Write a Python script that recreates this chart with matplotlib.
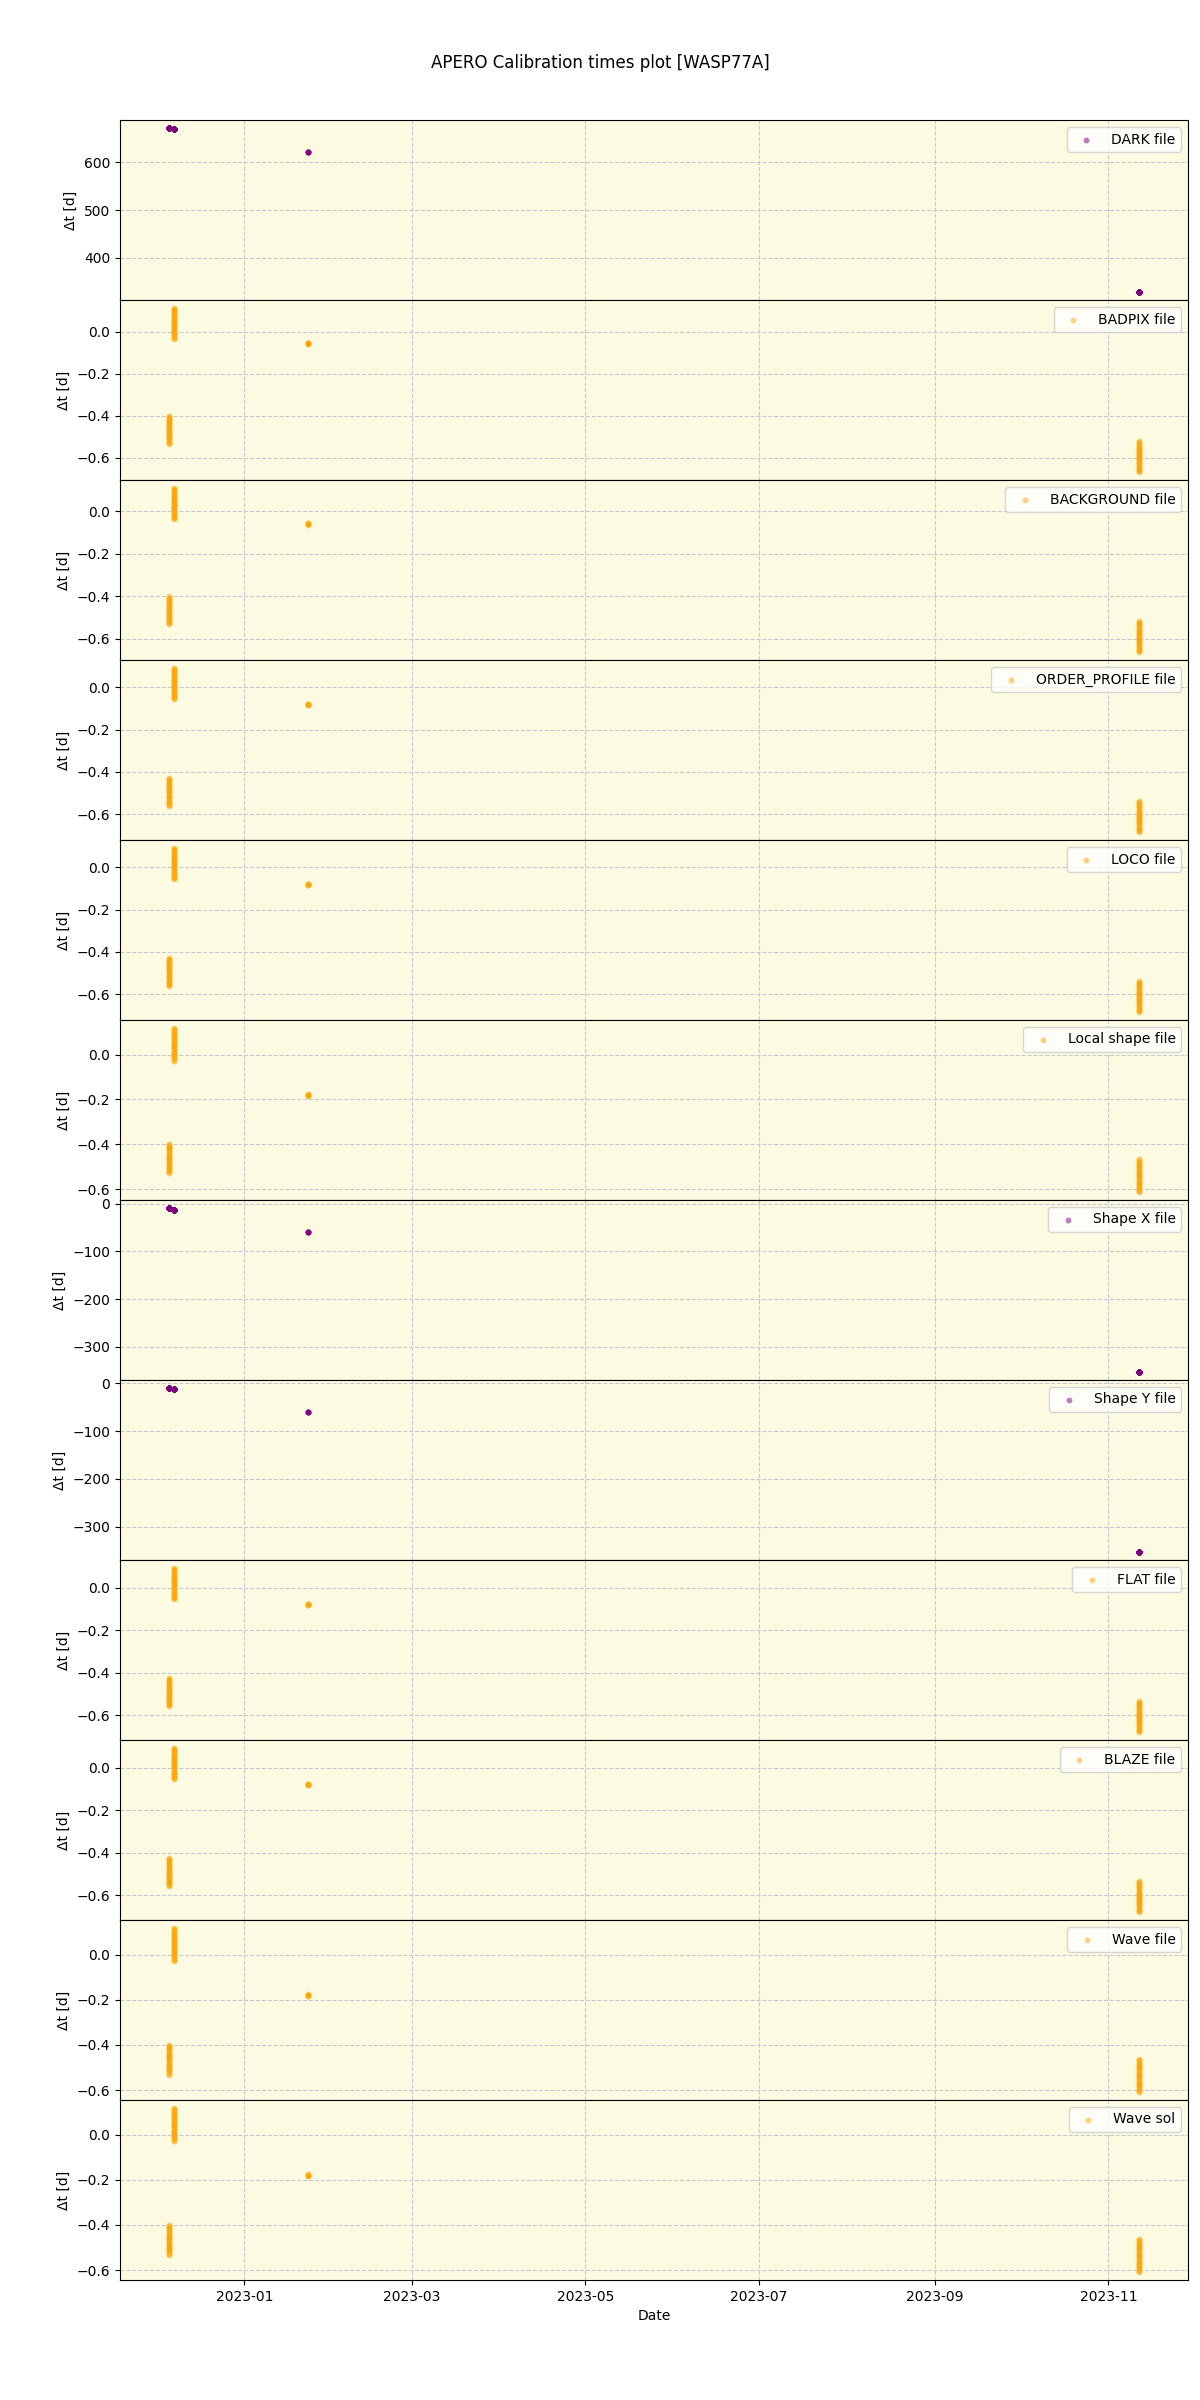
import numpy as np
import pandas as pd
import matplotlib
matplotlib.use("Agg")
import matplotlib.pyplot as plt
import matplotlib.dates as mdates

# Observation nights (start time of first exposure)
nights = ["2022-12-05 07:00", "2022-12-07 02:00", "2023-01-23 07:00", "2023-11-11 19:00"]
# Exposure time offsets within each night [days]
obs_offsets = [
    [0.000, 0.005, 0.010, 0.014, 0.019, 0.024, 0.029, 0.034, 0.039, 0.044, 0.049, 0.053,
     0.058, 0.063, 0.068, 0.073, 0.078, 0.083, 0.088, 0.092, 0.097, 0.102, 0.107, 0.112,
     0.117, 0.122, 0.127, 0.132],
    [0.000, 0.005, 0.010, 0.015, 0.020, 0.025, 0.030, 0.035, 0.040, 0.045, 0.050, 0.055,
     0.060, 0.065, 0.070, 0.075, 0.080, 0.085, 0.090, 0.095, 0.100, 0.105, 0.110, 0.115,
     0.120, 0.125, 0.130, 0.135, 0.140, 0.145],
    [0.000, 0.002, 0.004, 0.006, 0.008],
    [0.000, 0.005, 0.010, 0.015, 0.020, 0.025, 0.030, 0.035, 0.040, 0.045, 0.050, 0.055,
     0.060, 0.065, 0.070, 0.075, 0.080, 0.085, 0.090, 0.095, 0.100, 0.105, 0.110, 0.115,
     0.120, 0.125, 0.130, 0.135, 0.140, 0.145],
]

labels = ["DARK file", "BADPIX file", "BACKGROUND file", "ORDER_PROFILE file", "LOCO file",
          "Local shape file", "Shape X file", "Shape Y file", "FLAT file", "BLAZE file",
          "Wave file", "Wave sol"]
colors = ["purple", "orange", "orange", "orange", "orange", "orange",
          "purple", "purple", "orange", "orange", "orange", "orange"]
# Δt of the first exposure of each night, per calibration type [days]
dt_dark = [671.0, 668.5, 621.0, 329.5]
dt_badpix = [-0.401, 0.112, -0.052, -0.522]
dt_background = [-0.401, 0.110, -0.054, -0.517]
dt_order_profile = [-0.428, 0.089, -0.078, -0.537]
dt_loco = [-0.428, 0.089, -0.078, -0.537]
dt_local_shape = [-0.398, 0.118, -0.176, -0.467]
dt_shape_x = [-9.7, -12.5, -60.4, -352.0]
dt_shape_y = [-10.4, -12.8, -60.4, -352.0]
dt_flat = [-0.425, 0.092, -0.074, -0.532]
dt_blaze = [-0.425, 0.092, -0.074, -0.532]
dt_wave = [-0.400, 0.118, -0.176, -0.463]
dt_wave_sol = [-0.400, 0.118, -0.176, -0.463]

series = [dt_dark, dt_badpix, dt_background, dt_order_profile, dt_loco, dt_local_shape,
          dt_shape_x, dt_shape_y, dt_flat, dt_blaze, dt_wave, dt_wave_sol]

fig, axes = plt.subplots(12, 1, figsize=(12, 24), dpi=100, sharex=True)
fig.subplots_adjust(left=0.1, right=0.99, top=0.95, bottom=0.05, hspace=0)
fig.suptitle("APERO Calibration times plot [WASP77A]", fontsize=12, y=0.9775)

for ax, lab, col, vals in zip(axes, labels, colors, series):
    xs, ys = [], []
    for night, offs, v in zip(nights, obs_offsets, vals):
        t0 = pd.Timestamp(night)
        for o in offs:
            xs.append(t0 + pd.Timedelta(days=o))
            ys.append(v - o)
    ax.set_facecolor("#fcfbe2")
    ax.scatter(xs, ys, s=18, color=col, alpha=0.5, label=lab, zorder=3, linewidths=0)
    ax.grid(True, linestyle="--", color="#c8c8d2", linewidth=0.8)
    ax.set_axisbelow(True)
    ax.set_ylabel("Δt [d]")
    ax.legend(loc="upper right")

axes[-1].set_xlabel("Date")
axes[-1].xaxis.set_major_formatter(mdates.DateFormatter("%Y-%m"))

fig.savefig("out.png")
